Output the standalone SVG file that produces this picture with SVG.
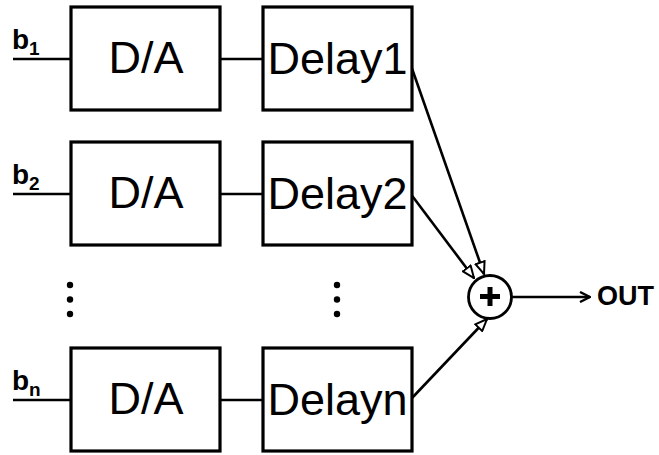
<svg xmlns="http://www.w3.org/2000/svg" width="659" height="455" viewBox="0 0 659 455">
  <style>
    .box { fill: #fff; stroke: #000; stroke-width: 3.2; }
    .wire { fill: none; stroke: #000; stroke-width: 2.6; }
    .big { font-family: "Liberation Sans", Arial, sans-serif; font-size: 45px; fill: #000; }
    .lbl { font-family: "Liberation Sans", Arial, sans-serif; font-size: 27px; font-weight: bold; fill: #000; }
    .in { font-size: 28px; }
    .sub { font-size: 19px; }
    .dot { fill: #000; }
  </style>
  <defs>
    <marker id="tri" viewBox="0 0 14 12" refX="13" refY="6" markerWidth="14" markerHeight="12" markerUnits="userSpaceOnUse" orient="auto">
      <path d="M1,1.2 L13,6 L1,10.8 Z" fill="#fff" stroke="#000" stroke-width="2"/>
    </marker>
    <marker id="chev" viewBox="0 0 12 12" refX="11" refY="6" markerWidth="12" markerHeight="12" markerUnits="userSpaceOnUse" orient="auto">
      <path d="M1,1 L11,6 L1,11" fill="none" stroke="#000" stroke-width="2.4"/>
    </marker>
  </defs>

  <!-- connectors -->
  <g id="connectors">
    <line class="wire" x1="13" y1="59" x2="71" y2="59"/>
    <line class="wire" x1="220" y1="59" x2="263" y2="59"/>
    <line class="wire" x1="13" y1="194" x2="71" y2="194"/>
    <line class="wire" x1="220" y1="194" x2="263" y2="194"/>
    <line class="wire" x1="13" y1="400" x2="71" y2="400"/>
    <line class="wire" x1="220" y1="400" x2="263" y2="400"/>
    <line class="wire" x1="409" y1="60" x2="484" y2="274" marker-end="url(#tri)"/>
    <line class="wire" x1="410" y1="193" x2="474" y2="278" marker-end="url(#tri)"/>
    <line class="wire" x1="412" y1="398" x2="487" y2="319" marker-end="url(#tri)"/>
    <line class="wire" x1="512" y1="297" x2="590" y2="297" marker-end="url(#chev)"/>
  </g>

  <!-- input labels -->
  <g id="inputs">
    <text class="lbl in" x="12" y="49">b<tspan class="sub" dy="6">1</tspan></text>
    <text class="lbl in" x="12" y="184">b<tspan class="sub" dy="6">2</tspan></text>
    <text class="lbl in" x="12" y="390">b<tspan class="sub" dy="6">n</tspan></text>
  </g>

  <!-- row 1 -->
  <g id="da1">
    <rect class="box" x="71" y="7" width="149" height="103"/>
    <text class="big" x="146" y="73" text-anchor="middle">D/A</text>
  </g>
  <g id="delay1">
    <rect class="box" x="263" y="7" width="149" height="103"/>
    <text class="big" x="337.5" y="74" text-anchor="middle" font-size="44">Delay1</text>
  </g>

  <!-- row 2 -->
  <g id="da2">
    <rect class="box" x="71" y="142" width="149" height="103"/>
    <text class="big" x="146" y="208" text-anchor="middle">D/A</text>
  </g>
  <g id="delay2">
    <rect class="box" x="263" y="142" width="149" height="103"/>
    <text class="big" x="337.5" y="209" text-anchor="middle" font-size="44">Delay2</text>
  </g>

  <!-- ellipsis between rows -->
  <g id="ellipsis">
    <circle class="dot" cx="70" cy="285" r="3.2"/>
    <circle class="dot" cx="70" cy="299.5" r="3.2"/>
    <circle class="dot" cx="70" cy="314" r="3.2"/>
    <circle class="dot" cx="337" cy="285" r="3.2"/>
    <circle class="dot" cx="337" cy="299.5" r="3.2"/>
    <circle class="dot" cx="337" cy="314" r="3.2"/>
  </g>

  <!-- row n -->
  <g id="dan">
    <rect class="box" x="71" y="348" width="149" height="103"/>
    <text class="big" x="146" y="414" text-anchor="middle">D/A</text>
  </g>
  <g id="delayn">
    <rect class="box" x="263" y="348" width="149" height="103"/>
    <text class="big" x="337.5" y="415" text-anchor="middle" font-size="44">Delayn</text>
  </g>

  <!-- summing junction -->
  <g id="sum">
    <circle cx="490" cy="297" r="21.5" fill="#fff" stroke="#000" stroke-width="2.8"/>
    <line x1="480" y1="296.5" x2="500" y2="296.5" stroke="#000" stroke-width="5"/>
    <line x1="490" y1="287" x2="490" y2="306" stroke="#000" stroke-width="5"/>
  </g>

  <!-- output -->
  <g id="out">
    <text class="lbl" x="597" y="305">OUT</text>
  </g>
</svg>
